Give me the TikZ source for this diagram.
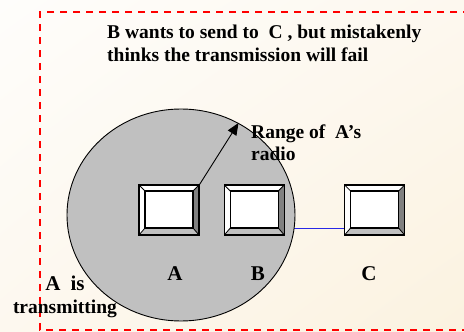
\documentclass[tikz,border=0pt]{standalone}
\usepackage{fontspec}
\setmainfont{Liberation Serif}
\usetikzlibrary{arrows.meta,positioning,shapes.geometric,shadings}
\pgfdeclarelayer{bg}
\pgfsetlayers{bg,main}
\definecolor{bgtl}{RGB}{254,253,251}
\definecolor{bgbr}{RGB}{251,242,224}
\definecolor{bgmid}{RGB}{253,248,239}
\definecolor{rangegray}{RGB}{192,192,192}
\definecolor{bevdark}{RGB}{128,128,128}
\definecolor{bevlight}{RGB}{192,192,192}
\definecolor{linkblue}{RGB}{40,40,230}
\tikzset{
  frm/.style={draw=red, line width=1.4pt, dash pattern=on 7pt off 6pt},
  rng/.style={ellipse, draw=black, line width=0.9pt, fill=rangegray, inner sep=0pt,
              minimum width=228pt, minimum height=212pt},
  stn/.style={draw=black, line width=1.3pt, fill=bevlight, inner sep=0pt,
              minimum width=60pt, minimum height=50pt,
              path picture={
                \coordinate (nw) at (path picture bounding box.north west);
                \coordinate (ne) at (path picture bounding box.north east);
                \coordinate (sw) at (path picture bounding box.south west);
                \coordinate (se) at (path picture bounding box.south east);
                \coordinate (inw) at ([xshift=6pt,yshift=-6pt]nw);
                \coordinate (ine) at ([xshift=-6pt,yshift=-6pt]ne);
                \coordinate (isw) at ([xshift=6pt,yshift=7pt]sw);
                \coordinate (ise) at ([xshift=-6pt,yshift=7pt]se);
                \fill[white] (nw) -- (ne) -- (ine) -- (inw) -- (isw) -- (sw) -- cycle;
                \fill[bevdark] (ne) -- (se) -- (ise) -- (ine) -- cycle;
                \draw[line width=1.1pt, fill=white] (inw) rectangle (ise);
                \draw[line width=0.8pt] (nw) -- (inw) (ne) -- (ine) (sw) -- (isw) (se) -- (ise);
              }},
  txt/.style={font=\fontsize{19.5}{22.5}\selectfont\bfseries, inner sep=0pt, align=left},
  lbl/.style={font=\fontsize{21}{24}\selectfont\bfseries, inner sep=0pt},
  radarr/.style={-{Triangle[length=12pt,width=10pt]}, line width=0.9pt},
  lnk/.style={linkblue, line width=1.2pt},
}

\begin{document}
\begin{tikzpicture}[x=1pt, y=-1pt]
  \useasboundingbox (0,0) rectangle (464,332);
  % stations
  \node[stn] (a) at (169,210) {};
  \node[stn, right=24pt of a] (b) {};
  \node[stn, right=59pt of b] (c) {};
  \begin{pgfonlayer}{bg}
    \shade[upper left=bgtl, upper right=bgmid, lower left=bgmid, lower right=bgbr]
      (0,0) rectangle (464,332);
    \draw[frm] (470,12) -- (40,12) -- (40,330) -- (470,330);
    \draw[lnk] ([yshift=7pt]b.south east) -- ([yshift=7pt]c.south west);
    \node[rng] (range) at (181,215) {};
  \end{pgfonlayer}
  \draw[radarr] (a.north east) -- (range.58);
  % texts
  \node[txt, anchor=north west] (ttl) at (107,25)
    {B wants to send to\ \ C , but mistakenly\\thinks the transmission will fail};
  \node[txt, anchor=north west] (rtxt) at (251,124.5) {Range of\ \ A’s\\radio};
  \node[txt, align=center, anchor=north] (atx) at (65,276)
    {{\fontsize{21}{24}\selectfont A\hspace{10pt}is\hspace{10pt}}\\transmitting};
  \node[lbl, anchor=base] (la) at (175,280) {A};
  \node[lbl, anchor=base] (lb) at (258,280) {B};
  \node[lbl, anchor=base] (lc) at (369,280) {C};
\end{tikzpicture}
\end{document}
